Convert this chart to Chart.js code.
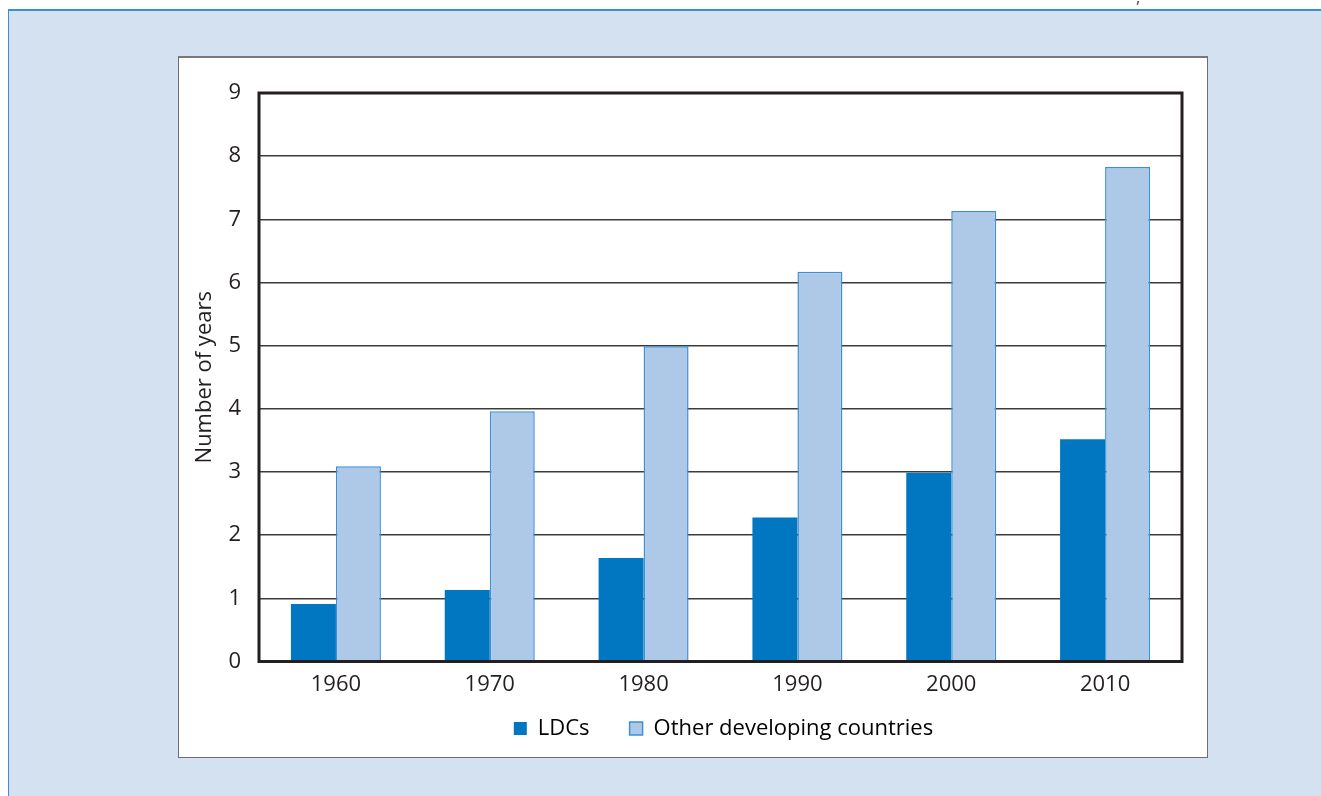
<!DOCTYPE html>
<html lang="en">
<head>
    <meta charset="UTF-8">
    <title>Number of years</title>
    <script src="https://cdn.jsdelivr.net/npm/chart.js@4/dist/chart.umd.min.js"></script>
    <style>
        html, body { margin: 0; padding: 0; background: #fff; overflow: hidden; }
        #page { position: relative; width: 1321px; height: 796px; }
        #panel {
            position: absolute; left: 8px; top: 9px; width: 1330px; height: 800px;
            background: #d4e1f1; border-top: 2px solid #3a90d2; border-left: 1px solid #3a90d2;
        }
        #box {
            position: absolute; left: 178px; top: 56px; width: 1028px; height: 699px;
            background: #fff; border: 1px solid #6d6e71; border-top: 2px solid #77787b;
        }
        #mark { position: absolute; left: 1136px; top: -14px; font: 16px "Open Sans"; color: #444; }
        #chart { position: absolute; left: 0; top: 0; }
    </style>
</head>
<body>
<div id="page">
    <div id="panel"></div>
    <div id="box"></div>
    <span id="mark">,</span>
    <canvas id="chart" width="1321" height="796"></canvas>
</div>
<script>
    const categories = ['1960', '1970', '1980', '1990', '2000', '2010'];
    const ldcs = [0.91, 1.13, 1.64, 2.28, 2.99, 3.52];
    const otherDeveloping = [3.09, 3.96, 4.99, 6.17, 7.13, 7.83];
    const yTicks = [0, 1, 2, 3, 4, 5, 6, 7, 8, 9];

    // thick frame round the plot area
    const frame = {
        id: 'frame',
        afterDatasetsDraw(chart) {
            const a = chart.chartArea;
            const ctx = chart.ctx;
            ctx.save();
            ctx.strokeStyle = '#231f20';
            ctx.lineWidth = 3;
            ctx.strokeRect(a.left, a.top, a.right - a.left, a.bottom - a.top);
            ctx.restore();
        }
    };

    // pull the legend up closer to the year labels
    const legendNudge = {
        id: 'legendNudge',
        afterLayout(chart) {
            const lg = chart.legend;
            lg.top -= 29; lg.bottom -= 29;
            lg.left += 3; lg.right += 3;
        }
    };

    const ctx = document.getElementById('chart').getContext('2d');
    new Chart(ctx, {
        type: 'bar',
        data: {
            labels: categories,
            datasets: [{
                label: 'LDCs',
                data: ldcs,
                backgroundColor: '#0077c0',
                borderWidth: 0
            }, {
                label: 'Other developing countries',
                data: otherDeveloping,
                backgroundColor: '#aec9e8',
                borderColor: '#3d8fd6',
                borderWidth: 1.5
            }]
        },
        options: {
            responsive: false,
            animation: false,
            layout: { padding: { top: 93, right: 139, bottom: 17.5, left: 192 } },
            datasets: { bar: { categoryPercentage: 0.585, barPercentage: 1 } },
            plugins: {
                tooltip: { enabled: false },
                legend: {
                    position: 'bottom',
                    fullSize: false,
                    labels: {
                        boxWidth: 13,
                        boxHeight: 13,
                        padding: 40,
                        color: '#231f20',
                        font: { family: 'Open Sans', size: 22 },
                        generateLabels(chart) {
                            return chart.data.datasets.map((d, i) => ({
                                text: d.label,
                                fillStyle: d.backgroundColor,
                                strokeStyle: i === 1 ? '#3d8fd6' : d.backgroundColor,
                                lineWidth: i === 1 ? 1.5 : 0,
                                datasetIndex: i,
                                hidden: false
                            }));
                        }
                    }
                }
            },
            scales: {
                x: {
                    afterFit(scale) { scale.height = 45; },
                    grid: { display: false, drawTicks: false },
                    border: { display: false },
                    ticks: { padding: 10, color: '#231f20', font: { family: 'Open Sans', size: 22 } }
                },
                y: {
                    min: 0,
                    max: 9,
                    afterFit(scale) { scale.width = 67; },
                    afterBuildTicks(scale) { scale.ticks = yTicks.map(v => ({ value: v })); },
                    grid: { color: '#3c3c3c', lineWidth: 1.5, drawTicks: false },
                    border: { display: false },
                    ticks: { padding: 18, color: '#231f20', font: { family: 'Open Sans', size: 22 } },
                    title: {
                        display: true,
                        text: 'Number of years',
                        color: '#231f20',
                        padding: 0,
                        font: { family: 'Open Sans', size: 22 }
                    }
                }
            }
        },
        plugins: [frame, legendNudge]
    });
</script>
</body>
</html>
